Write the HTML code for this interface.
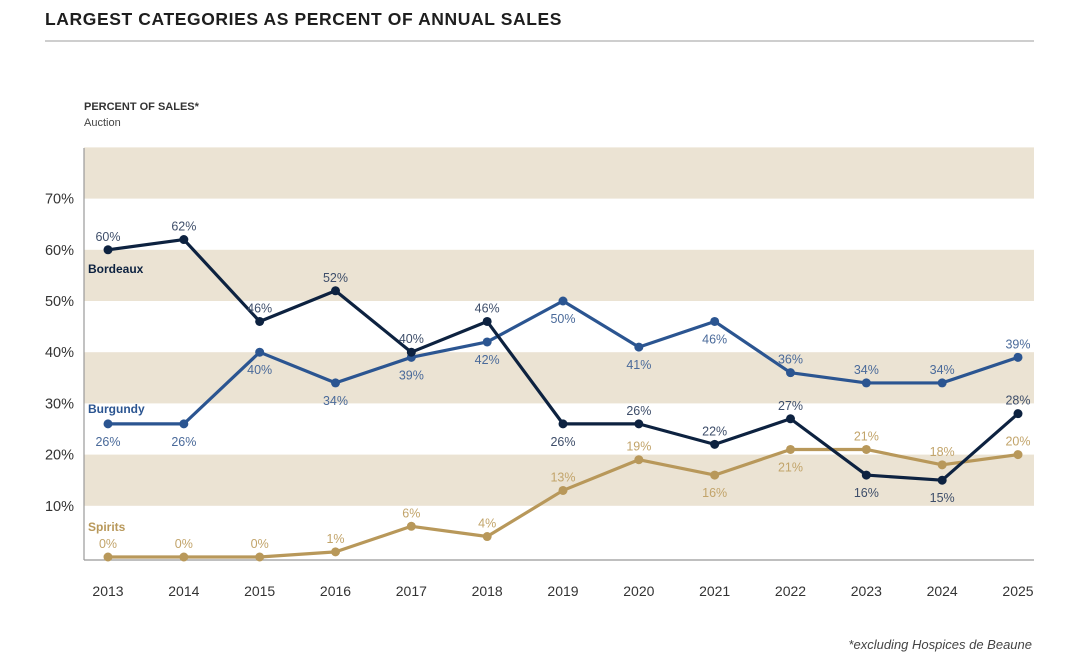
<!DOCTYPE html>
<html><head><meta charset="utf-8"><style>
body{margin:0;background:#fff;width:1080px;height:661px;overflow:hidden;font-family:"Liberation Sans",sans-serif}
</style></head><body>
<svg width="1080" height="661" id="svg">
<text x="45" y="25" font-size="17.5" font-weight="bold" fill="#1e1e1e" letter-spacing="0.6">LARGEST CATEGORIES AS PERCENT OF ANNUAL SALES</text>
<line x1="45" y1="41" x2="1034" y2="41" stroke="#bdbdbd" stroke-width="1.5"/>
<text x="84" y="110" font-size="11" font-weight="bold" fill="#333">PERCENT OF SALES*</text>
<text x="84" y="126" font-size="11" fill="#444">Auction</text>
<g id="bands"></g><g id="axes"></g><g id="series"></g>
<text x="1032" y="649" font-size="13" font-style="italic" fill="#444" text-anchor="end">*excluding Hospices de Beaune</text>
</svg>
<script>
const years=["2013","2014","2015","2016","2017","2018","2019","2020","2021","2022","2023","2024","2025"];
const bordeaux=[60,62,46,52,40,46,26,26,22,27,16,15,28];
const burgundy=[26,26,40,34,39,42,50,41,46,36,34,34,39];
const spirits=[0,0,0,1,6,4,13,19,16,21,21,18,20];
const bordeauxLabelPos=["a","a","a","a","a","a","b","a","a","a","b","b","a"];
const burgundyLabelPos=["b","b","b","b","b","b","b","b","b","a","a","a","a"];
const spiritsLabelPos=["a","a","a","a","a","a","a","a","b","b","a","a","a"];
const yTicks=[10,20,30,40,50,60,70];
const bandRanges=[[70,80],[50,60],[30,40],[10,20]];
const NS="http://www.w3.org/2000/svg";
const X0=108,X1=1018,Y0=557,PX=5.12;
const x=i=>X0+i*(X1-X0)/(years.length-1);
const y=v=>Y0-v*PX;
function mk(t,a,p){const e=document.createElementNS(NS,t);for(const k in a)e.setAttribute(k,a[k]);p.appendChild(e);return e;}
const bands=document.getElementById('bands'),axes=document.getElementById('axes'),ser=document.getElementById('series');
bandRanges.forEach(r=>{const e=mk('rect',{x:84,y:y(r[1]),width:950,height:y(r[0])-y(r[1]),fill:'#ebe3d3'},bands);

});
let ax=mk('line',{x1:84,y1:148,x2:84,y2:560,stroke:'#999','stroke-width':1.2},axes);


ax=mk('line',{x1:84,y1:560,x2:1034,y2:560,stroke:'#999','stroke-width':1.2},axes);


yTicks.forEach(v=>{const t=mk('text',{x:74,y:y(v)+5,'font-size':14.5,fill:'#333','text-anchor':'end'},axes);t.textContent=v+'%';

});
years.forEach((yr,i)=>{const t=mk('text',{x:x(i),y:596,'font-size':14,fill:'#333','text-anchor':'middle'},axes);t.textContent=yr;

});
function series(name,vals,pos,col,lblCol,label,ly){
  const g=mk('g',{},ser);
  
  
  const pl=mk('polyline',{points:vals.map((v,i)=>x(i)+','+y(v)).join(' '),fill:'none',stroke:col,'stroke-width':3.2,'stroke-linejoin':'round'},g);
  
  
  vals.forEach((v,i)=>{const c=mk('circle',{cx:x(i),cy:y(v),r:4.5,fill:col},g);
    
    
    const t=mk('text',{x:x(i),y:pos[i]=='a'?y(v)-9:y(v)+22,'font-size':12.5,fill:lblCol,'text-anchor':'middle'},g);t.textContent=v+'%';
    
    });
  const l=mk('text',{x:88,y:ly,'font-size':12,'font-weight':'bold',fill:col},g);l.textContent=label;
  
  
}
series('spirits',spirits,spiritsLabelPos,'#b8985a','#c2a46a','Spirits',531);
series('burgundy',burgundy,burgundyLabelPos,'#2b5591','#4a6a9a','Burgundy',413);
series('bordeaux',bordeaux,bordeauxLabelPos,'#0d2240','#3e4e6a','Bordeaux',273);
</script>
</body></html>
